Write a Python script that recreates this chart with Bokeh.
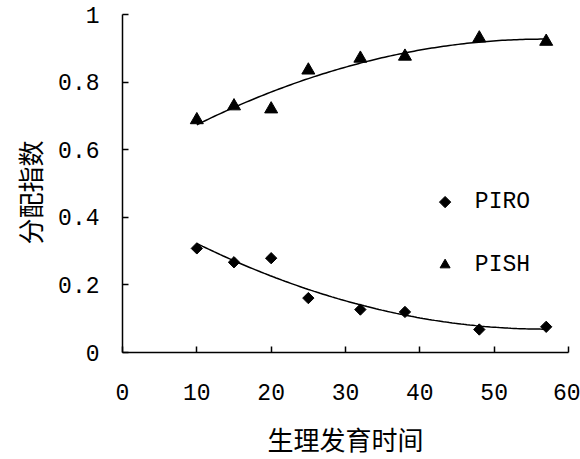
import numpy as np
from bokeh.plotting import figure
from bokeh.models import FixedTicker, Title, Range1d, ColumnDataSource
from bokeh.core.properties import value
from bokeh.embed import file_html
from bokeh.resources import INLINE

# Physiological development time and partition indices
dev_time = [10, 15, 20, 25, 32, 38, 48, 57]
piro = [0.308, 0.267, 0.279, 0.161, 0.127, 0.120, 0.068, 0.076]
pish = [0.688, 0.729, 0.720, 0.835, 0.870, 0.876, 0.930, 0.920]
series_names = ["PIRO", "PISH"]

x_ticks = [0, 10, 20, 30, 40, 50, 60]
y_ticks = [0, 0.2, 0.4, 0.6, 0.8, 1]
y_tick_labels = ["0", "0.2", "0.4", "0.6", "0.8", "1"]

LATIN = "Liberation Mono"
CJK = "Noto Sans CJK SC"

src = ColumnDataSource(dict(t=dev_time, piro=piro, pish=pish))

# quadratic trend lines through each series
t_fit = np.linspace(min(dev_time), max(dev_time), 120)
piro_fit = np.polyval(np.polyfit(dev_time, piro, 2), t_fit)
pish_fit = np.polyval(np.polyfit(dev_time, pish, 2), t_fit)

p = figure(width=580, height=459, x_range=Range1d(0, 60), y_range=Range1d(0, 1),
           output_backend="svg", toolbar_location=None,
           min_border_left=122, min_border_right=12, min_border_top=14, min_border_bottom=105)
p.outline_line_color = None
p.grid.visible = False
p.background_fill_color = "white"
p.border_fill_color = "white"

for ax in (p.xaxis[0], p.yaxis[0]):
    ax.major_tick_in = 6
    ax.major_tick_out = 0
    ax.minor_tick_line_color = None
    ax.axis_line_width = 1.5
    ax.major_tick_line_width = 1.5
    ax.axis_line_color = "black"
    ax.major_tick_line_color = "black"
    ax.major_label_text_font = LATIN
    ax.major_label_text_font_size = "23px"
    ax.major_label_text_color = "black"

p.xaxis.ticker = FixedTicker(ticks=x_ticks)
p.yaxis.ticker = FixedTicker(ticks=y_ticks)
p.yaxis.major_label_overrides = {v: s for v, s in zip(y_ticks, y_tick_labels)}
p.xaxis.major_label_standoff = 31
p.yaxis.major_label_standoff = 23

# x axis title sits below the tick labels
p.xaxis.axis_label = "生理发育时间"
p.xaxis.axis_label_text_font = CJK
p.xaxis.axis_label_text_font_size = "26px"
p.xaxis.axis_label_text_font_style = "normal"
p.xaxis.axis_label_text_color = "black"
p.xaxis.axis_label_standoff = 17

p.line(t_fit, piro_fit, line_color="black", line_width=1.5)
p.line(t_fit, pish_fit, line_color="black", line_width=1.5)

p.scatter("t", "piro", source=src, marker="square", angle=np.pi / 4, size=8, color="black")
p.scatter("t", "pish", source=src, marker="triangle", size=13, color="black")

# legend keys placed in the empty right-hand part of the plot
key_x = 43.4
key_y = [0.445, 0.259]
key_src = ColumnDataSource(dict(x=[key_x] * 2, y=key_y, name=series_names,
                                marker=["square", "triangle"], size=[8, 10],
                                angle=[np.pi / 4, 0]))
p.scatter("x", "y", source=key_src, marker="marker", size="size", angle="angle", color="black")
p.text(x=key_x + 4.0, y="y", text="name", source=key_src, text_font=value(LATIN),
       text_font_size="23px", text_baseline="middle", text_align="left", text_color="black")

# y axis title
p.add_layout(Title(text="分配指数", align="left", offset=108, standoff=11, vertical_align="top",
                   text_font=CJK, text_font_size="26px", text_font_style="normal",
                   text_color="black"), "left")

open("out.html", "w").write(file_html(p, INLINE))
